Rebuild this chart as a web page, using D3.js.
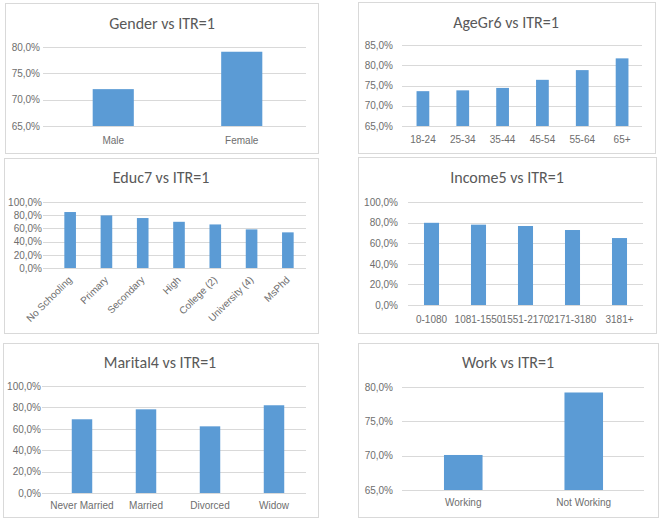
<!DOCTYPE html>
<html>
<head>
<meta charset="utf-8">
<script src="https://cdn.jsdelivr.net/npm/d3@7"></script>
<style>
  html, body { margin: 0; padding: 0; background: #fff; }
  svg { display: block; font-family: Carlito, Calibri, Lato, sans-serif; }
  .axis text { fill: #6e6e6e; font-size: 10px; }
  .axis .domain { display: none; }
  .grid line { stroke: #d9d9d9; stroke-width: 1; }
  .title { fill: #595959; font-size: 16px; text-anchor: middle; }
</style>
</head>
<body>
<svg id="chart" width="660" height="519"></svg>
<script>
// data (percent of ITR=1)
const genderCats = ['Male', 'Female'];
const genderVals = [72.0, 79.1];

const ageCats = ['18-24', '25-34', '35-44', '45-54', '55-64', '65+'];
const ageVals = [73.6, 73.8, 74.4, 76.4, 78.8, 81.7];

const educCats = ['No Schooling', 'Primary', 'Secondary', 'High', 'College (2)', 'University (4)', 'MsPhd'];
const educVals = [84.8, 79.7, 75.7, 70.0, 66.0, 58.5, 54.0];

const incomeCats = ['0-1080', '1081-1550', '1551-2170', '2171-3180', '3181+'];
const incomeVals = [79.8, 78.0, 76.7, 72.8, 65.0];

const maritalCats = ['Never Married', 'Married', 'Divorced', 'Widow'];
const maritalVals = [68.9, 78.2, 62.3, 82.0];

const workCats = ['Working', 'Not Working'];
const workVals = [70.1, 79.2];

const ticks65to80 = [65, 70, 75, 80];
const ticks65to85 = [65, 70, 75, 80, 85];
const ticks0to100 = [0, 20, 40, 60, 80, 100];

// layout per panel: box = frame, x0/x1 band range, gx = gridline start, yTop/yBot = pixel of top/bottom tick
const panels = [
  { title: 'Gender vs ITR=1', cats: genderCats, vals: genderVals, ticks: ticks65to80,
    box: [5, 3, 313, 150], x0: 49, x1: 306, gx: 43, yTop: 47, yBot: 126, lx: 40, ty: 29, tx: 162, cy: 144 },
  { title: 'AgeGr6 vs ITR=1', cats: ageCats, vals: ageVals, ticks: ticks65to85,
    box: [358, 2, 297, 151], x0: 403, x1: 642, gx: 402, yTop: 45, yBot: 126, lx: 393, ty: 28, tx: 506, cy: 143 },
  { title: 'Educ7 vs ITR=1', cats: educCats, vals: educVals, ticks: ticks0to100, rotate: true,
    box: [4, 158, 314, 175], x0: 52, x1: 306, gx: 43, yTop: 202, yBot: 268, lx: 42, ty: 183, tx: 161 },
  { title: 'Income5 vs ITR=1', cats: incomeCats, vals: incomeVals, ticks: ticks0to100,
    box: [358, 157, 298, 176], x0: 408, x1: 643, gx: 408, yTop: 202, yBot: 305, lx: 398, ty: 183, tx: 507, cy: 323 },
  { title: 'Marital4 vs ITR=1', cats: maritalCats, vals: maritalVals, ticks: ticks0to100,
    box: [3, 343, 315, 174], x0: 50, x1: 306, gx: 42, yTop: 386, yBot: 493, lx: 41, ty: 368, tx: 160, cy: 509 },
  { title: 'Work vs ITR=1', cats: workCats, vals: workVals, ticks: ticks65to80,
    box: [358, 343, 300, 174], x0: 403, x1: 644, gx: 402, yTop: 387, yBot: 490, lx: 393, ty: 368, tx: 508, cy: 506 }
];

const fmtPct = v => d3.format('.1f')(v).replace('.', ',') + '%';
const svg = d3.select('#chart');

panels.forEach(p => {
  const g = svg.append('g');

  // frame
  g.append('rect')
    .attr('x', p.box[0] + 0.5).attr('y', p.box[1] + 0.5)
    .attr('width', p.box[2]).attr('height', p.box[3])
    .attr('fill', '#fff').attr('stroke', '#d9d9d9');

  g.append('text').attr('class', 'title')
    .attr('x', p.tx).attr('y', p.ty)
    .text(p.title);

  const x = d3.scaleBand().domain(p.cats).range([p.x0, p.x1]);
  const y = d3.scaleLinear()
    .domain([p.ticks[0], p.ticks[p.ticks.length - 1]])
    .range([p.yBot, p.yTop]);

  // gridlines
  g.append('g').attr('class', 'grid')
    .selectAll('line')
    .data(p.ticks)
    .join('line')
    .attr('x1', p.gx).attr('x2', p.x1)
    .attr('y1', d => Math.round(y(d)) + 0.5).attr('y2', d => Math.round(y(d)) + 0.5);

  // y tick labels
  g.append('g').attr('class', 'axis')
    .attr('transform', `translate(${p.lx},0)`)
    .call(d3.axisLeft(y).tickValues(p.ticks).tickSize(0).tickPadding(0).tickFormat(fmtPct));

  // bars
  const bw = x.bandwidth() * 0.32;
  g.selectAll('.bar')
    .data(p.cats.map((c, i) => ({ c, v: p.vals[i] })))
    .join('rect')
    .attr('class', 'bar')
    .attr('x', d => x(d.c) + (x.bandwidth() - bw) / 2)
    .attr('width', bw)
    .attr('y', d => y(d.v))
    .attr('height', d => p.yBot - y(d.v))
    .attr('fill', '#5b9bd5');

  // category labels
  const xa = g.append('g').attr('class', 'axis')
    .attr('transform', `translate(0,${p.yBot})`)
    .call(d3.axisBottom(x).tickSize(0).tickPadding(0));

  if (p.rotate) {
    xa.selectAll('text')
      .attr('y', 0).attr('dy', '0.35em')
      .attr('text-anchor', 'end')
      .attr('transform', 'translate(0,10) rotate(-45)');
  } else {
    xa.selectAll('text')
      .attr('y', p.cy - p.yBot).attr('dy', 0);
  }
});
</script>
</body>
</html>
